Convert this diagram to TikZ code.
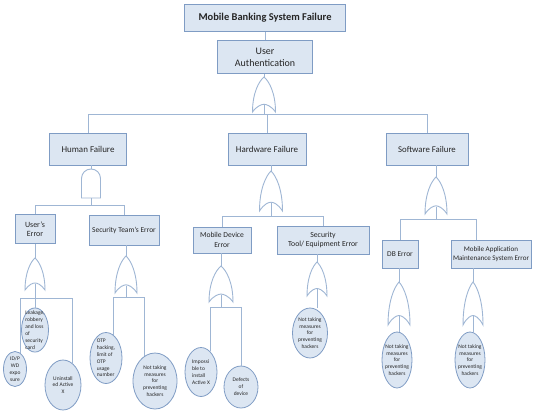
\documentclass[tikz,border=0pt]{standalone}
\usepackage{fontspec}
\setmainfont{Carlito}
\usepackage{tikz}
\usetikzlibrary{shapes.geometric,calc}
\definecolor{boxfill}{HTML}{DCE6F2}
\definecolor{boxline}{HTML}{7F9CC4}
\definecolor{wirecol}{HTML}{9FB6D4}
\newcommand{\fsz}[1]{\fontsize{#1}{#1}\selectfont}

\begin{document}
\begin{tikzpicture}[x = 1bp, y = -1bp,
  event/.style = {draw = boxline, fill = boxfill, line width = .9bp, align = center, inner sep = 1bp, text = black!85},
  basic/.style = {ellipse, draw = boxline, fill = boxfill, line width = .8bp, align = center, inner sep = -3.5bp,
    text = black!85, font = \fontsize{5.5}{6.9}\selectfont},
  wire/.style = {draw = wirecol, line width = .9bp},
  pics/orgate/.style 2 args = {code = {
    \coordinate (-top) at (0,0);
    \coordinate (-in) at (0,#2*0.8);
    \draw[wire, fill = white] (0,0) .. controls (#1*0.22,#2*0.12) and (#1*0.5,#2*0.45) .. (#1*0.5,#2)
      .. controls (#1*0.3,#2*0.82) and (#1*0.1,#2*0.78) .. (0,#2*0.78)
      .. controls (-#1*0.1,#2*0.78) and (-#1*0.3,#2*0.82) .. (-#1*0.5,#2)
      .. controls (-#1*0.5,#2*0.45) and (-#1*0.22,#2*0.12) .. (0,0) -- cycle;
  }},
  pics/andgate/.style 2 args = {code = {
    \coordinate (-top) at (0,0);
    \coordinate (-in) at (0,#2);
    \draw[wire, fill = white] (-#1*0.5,#2) -- (-#1*0.5,#1*0.5)
      .. controls (-#1*0.5,#1*0.22) and (-#1*0.28,0) .. (0,0)
      .. controls (#1*0.28,0) and (#1*0.5,#1*0.22) .. (#1*0.5,#1*0.5) -- (#1*0.5,#2) -- cycle;
  }}]
\useasboundingbox (0,0) rectangle (535,411);

% top events
\node[event, font = \bfseries\fsz{10.5}, minimum width = 161bp, minimum height = 27bp] (top) at (265,18) {Mobile Banking System Failure};
\node[event, font = \fontsize{10}{12}\selectfont, minimum width = 95bp, minimum height = 33bp] (auth) at (265,57) {User\\Authentication};
\draw[wire] (top) -- (auth);
\pic (gauth) at (264,77) {orgate={23}{35}};
\draw[wire] (auth.south -| gauth-top) -- (gauth-top);

% second level
\node[event, font = \fsz{9}, minimum width = 77bp, minimum height = 32bp] (human) at (88,149) {Human Failure};
\node[event, font = \fsz{9}, minimum width = 78bp, minimum height = 32bp] (hard) at (267,149) {Hardware Failure};
\node[event, font = \fsz{8.8}, minimum width = 82bp, minimum height = 32bp] (soft) at (427,149) {Software Failure};
\draw[wire] (gauth-in) -- ++(0,9) -| (human.north);
\draw[wire] (gauth-in) -- ++(0,9) -| (hard.north);
\draw[wire] (gauth-in) -- ++(0,9) -| (soft.north);

\pic (ghuman) at (91,169) {andgate={19}{29}};
\pic (ghard) at (271,171) {orgate={23}{40}};
\pic (gsoft) at (436,177) {orgate={22}{37}};
\draw[wire] (human.south -| ghuman-top) -- (ghuman-top);
\draw[wire] (hard.south -| ghard-top) -- (ghard-top);
\draw[wire] (soft.south -| gsoft-top) -- (gsoft-top);

% third level
\node[event, font = \fontsize{8}{9.5}\selectfont, minimum width = 40bp, minimum height = 29bp] (user) at (35,229) {User's\\Error};
\node[event, font = \fsz{7.5}, minimum width = 70bp, minimum height = 30bp] (team) at (124,230) {Security Team's Error};
\node[event, font = \fontsize{7.6}{9.5}\selectfont, minimum width = 58bp, minimum height = 26bp] (device) at (222,240) {Mobile Device\\Error};
\node[event, font = \fontsize{7.8}{9.5}\selectfont, minimum width = 92bp, minimum height = 28bp] (tool) at (323,240) {Security\\Tool/ Equipment Error};
\node[event, font = \fsz{7.5}, minimum width = 36bp, minimum height = 28bp] (db) at (400,254) {DB Error};
\node[event, font = \fontsize{7.1}{9}\selectfont, minimum width = 80bp, minimum height = 28bp] (app) at (491,254) {Mobile Application\\Maintenance System Error};
\draw[wire] (ghuman-in) -- ++(0,7) -| (user.north);
\draw[wire] (ghuman-in) -- ++(0,7) -| (team.north);
\draw[wire] (ghard-in) -- ++(0,13) -| (device.north);
\draw[wire] (ghard-in) -- ++(0,13) -| (tool.north);
\draw[wire] (gsoft-in) -- ++(0,13) -| (db.north);
\draw[wire] (gsoft-in) -- ++(0,13) -| ([xshift=-15bp]app.north);

\pic (guser) at (35,258) {orgate={20}{32}};
\pic (gteam) at (126,256) {orgate={22}{37}};
\pic (gdevice) at (221,266) {orgate={24}{36}};
\pic (gtool) at (317,262) {orgate={20}{34}};
\pic (gdb) at (399,282) {orgate={22}{43}};
\pic (gapp) at (473,282) {orgate={20}{43}};
\draw[wire] (user.south -| guser-top) -- (guser-top);
\draw[wire] (team.south -| gteam-top) -- (gteam-top);
\draw[wire] (device.south -| gdevice-top) -- (gdevice-top);
\draw[wire] (tool.south -| gtool-top) -- (gtool-top);
\draw[wire] (db.south -| gdb-top) -- (gdb-top);
\draw[wire] (app.south -| gapp-top) -- (gapp-top);

% basic events
\node[basic, align = left, minimum width = 27bp, minimum height = 44bp] (leak) at (35,330) {Leakage,\\robbery\\and loss\\of\\security\\card};
\node[basic, minimum width = 23bp, minimum height = 35bp] (idpw) at (15,369) {ID/P\\WD\\expo\\sure};
\node[basic, minimum width = 36bp, minimum height = 50bp] (unin) at (63,385) {Uninstall\\ed Active\\X};
\node[basic, align = left, minimum width = 32bp, minimum height = 51bp] (otp) at (106,358) {OTP\\hacking,\\limit of\\OTP\\usage\\number};
\node[basic, minimum width = 44bp, minimum height = 56bp] (nteam) at (155,381) {Not taking\\measures\\for\\preventing\\hackers};
\node[basic, align = left, minimum width = 32bp, minimum height = 49bp] (imposs) at (201,372) {Impossi\\ble to\\install\\Active X};
\node[basic, minimum width = 34bp, minimum height = 42bp] (defect) at (241,387) {Defects\\of\\device};
\node[basic, minimum width = 35bp, minimum height = 50bp] (ntool) at (310,333) {Not taking\\measures\\for\\preventing\\hackers};
\node[basic, minimum width = 30bp, minimum height = 56bp] (ndb) at (397,360) {Not taking\\measures\\for\\preventing\\hackers};
\node[basic, minimum width = 30bp, minimum height = 56bp] (napp) at (470,360) {Not taking\\measures\\for\\preventing\\hackers};

\draw[wire] (guser-in) -- (guser-in |- leak.north);
\draw[wire] (guser-in) -- ++(0,15) -| (idpw.73);
\draw[wire] (guser-in) -- ++(0,15) -| (unin.68);
\draw[wire] (gteam-in) -- ++(0,12) -| (otp.73);
\draw[wire] (gteam-in) -- ++(0,12) -| (nteam.112);
\draw[wire] (gdevice-in) -- ++(0,13) -| (imposs.66);
\draw[wire] (gdevice-in) -- ++(0,13) -| (defect.north);
\draw[wire] (gtool-in) -- (gtool-in |- ntool.north);
\draw[wire] (gdb-in) -- (gdb-in |- ndb.north);
\draw[wire] (gapp-in) -- (gapp-in |- napp.north);
\end{tikzpicture}
\end{document}
